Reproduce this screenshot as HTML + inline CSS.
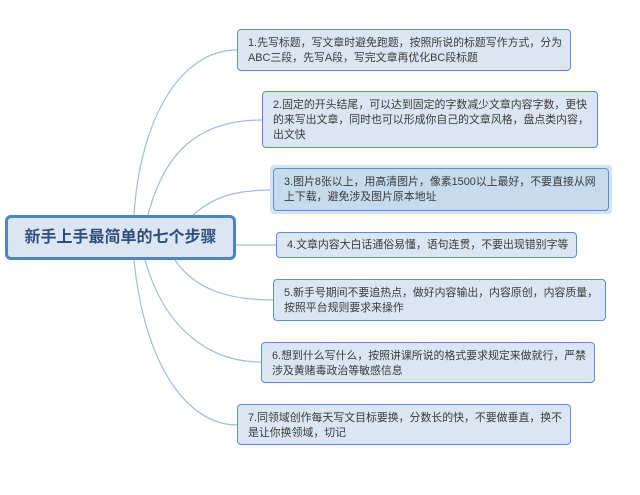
<!DOCTYPE html>
<html><head><meta charset="utf-8"><style>
body{margin:0;width:640px;height:495px;background:#fff;position:relative;overflow:hidden;font-family:"Liberation Sans","Noto Sans CJK SC",sans-serif}
.b{position:absolute;box-sizing:border-box;border:1.5px solid #5b8fd0;border-radius:4px;background:#dce6f2;color:#3a3a3a;font-size:10.9px;line-height:15px;padding:6px 8px 0 10px;white-space:nowrap;overflow:hidden}
svg{position:absolute;left:0;top:0}
</style></head><body>
<svg width="640" height="495"><g fill="none" stroke="#9dbde6" stroke-width="1.2">
<path d="M134 215 C140 120 180 50 237 50"/>
<path d="M148 215 C165 150 200 120 262 120"/>
<path d="M193 215 C215 195 240 190 273 190"/>
<path d="M236 245 L276 245"/>
<path d="M175 260 C195 290 230 300 273 300"/>
<path d="M145 260 C165 330 210 362 261 362"/>
<path d="M134 260 C145 370 190 425 237 425"/>
</g></svg>
<div class="b" style="left:5px;top:215px;width:231px;height:45px;border:3px solid #4a86c8;border-radius:6px;font-size:16px;font-weight:bold;color:#2f4f7a;padding:0;line-height:39px;text-align:center">新手上手最简单的七个步骤</div>
<div class="b" style="left:237px;top:29px;width:334px;height:42px">1.先写标题，写文章时避免跑题，按照所说的标题写作方式，分为<br>ABC三段，先写A段，写完文章再优化BC段标题</div>
<div class="b" style="left:262px;top:91px;width:336px;height:57px">2.固定的开头结尾，可以达到固定的字数减少文章内容字数，更快<br>的来写出文章，同时也可以形成你自己的文章风格，盘点类内容，<br>出文快</div>
<div style="position:absolute;left:270px;top:165px;width:342px;height:49px;background:#d5e3ee;border-radius:4px"></div>
<div class="b" style="left:273px;top:168px;width:336px;height:43px;background:#c6dbeb">3.图片8张以上，用高清图片，像素1500以上最好，不要直接从网<br>上下载，避免涉及图片原本地址</div>
<div class="b" style="left:276px;top:232px;width:301px;height:26px;padding-top:5px">4.文章内容大白话通俗易懂，语句连贯，不要出现错别字等</div>
<div class="b" style="left:273px;top:279px;width:333px;height:42px">5.新手号期间不要追热点，做好内容输出，内容原创，内容质量，<br>按照平台规则要求来操作</div>
<div class="b" style="left:261px;top:342px;width:334px;height:41px">6.想到什么写什么，按照讲课所说的格式要求规定来做就行，严禁<br>涉及黄赌毒政治等敏感信息</div>
<div class="b" style="left:237px;top:404px;width:334px;height:41px">7.同领域创作每天写文目标要换，分数长的快，不要做垂直，换不<br>是让你换领域，切记</div>
</body></html>
